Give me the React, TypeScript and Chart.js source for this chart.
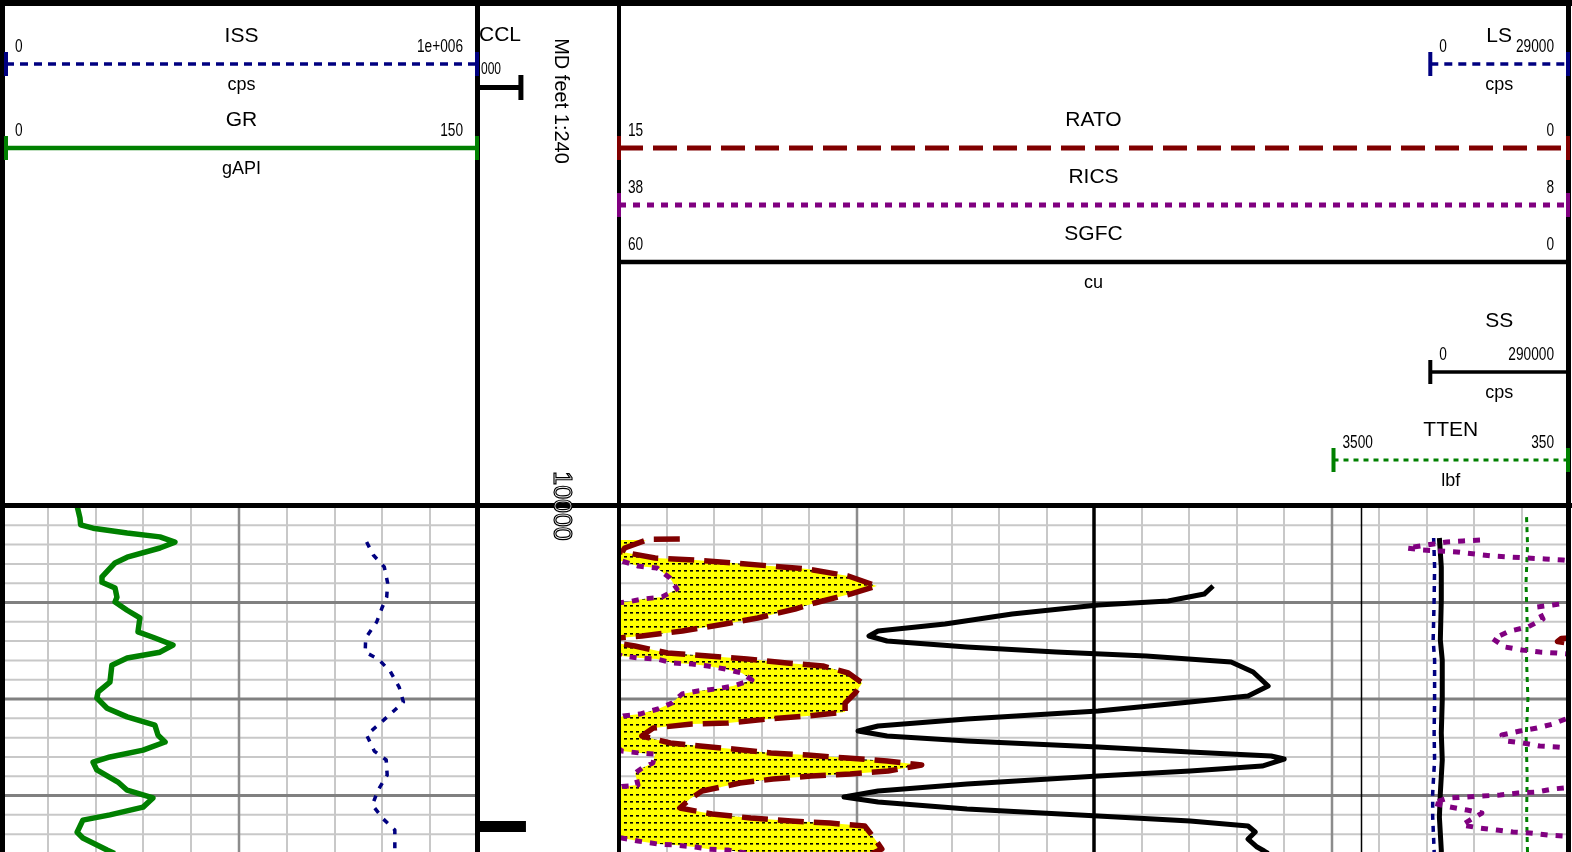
import React, { useEffect, useRef } from "react";
import { Chart, registerables } from "chart.js";
Chart.register(...registerables);

// ---------------- layout constants ----------------
const W = 1572;
const H = 852;
const FONT = '"Liberation Sans", Arial, Helvetica, sans-serif';
const DATA_TOP = 506;
const DEPTH_TOP = 10000;
const DEPTH_BOTTOM = 10071.7;
const MINOR_STEP = 4;
const MAJOR_STEP = 20;
const TRACK1 = { left: 0, right: 478 };
const DEPTH_TRACK = { left: 478, right: 619 };
const TRACK2 = { left: 619, right: 1569 };
const LS_SS_START = 0.854; // fraction of track 2 where LS / SS scales begin
const TTEN_START = 0.75; // fraction of track 2 where TTEN scale begins
const CCL_END = 0.34; // fraction of depth track where CCL scale ends
const CCL_HEADER_END = 0.315;

const GREEN = "#008000";
const NAVY = "#000080";
const MAROON = "#800000";
const PURPLE = "#800080";
const BLACK = "#000000";

// ---------------- scales (left value, right value) ----------------
const grScale = [0, 150];
const issScale = [0, 1000000];
const cclScale = [0, 1];
const ratoScale = [15, 0];
const ricsScale = [38, 8];
const sgfcScale = [60, 0];
const lsScale = [0, 29000];
const ssScale = [0, 290000];
const ttenScale = [3500, 350];
const depthLabel = "MD feet 1:240";

// ---------------- data ----------------
const grDepth = [10000.0, 10002.5, 10003.9, 10004.6, 10005.6, 10006.4, 10007.5, 10008.7, 10010.6, 10011.8, 10014.7, 10015.8, 10017.0, 10018.9, 10019.9, 10021.6, 10023.2, 10026.1, 10027.2, 10028.8, 10030.3, 10031.5, 10033.0, 10036.5, 10038.5, 10039.8, 10041.9, 10043.7, 10045.4, 10047.5, 10048.9, 10050.6, 10052.0, 10053.1, 10054.7, 10057.2, 10058.9, 10060.5, 10062.4, 10064.0, 10065.1, 10067.6, 10068.8, 10071.3, 10072.0];
const grValue = [24.2, 25.1, 25.3, 29.2, 39.9, 50.2, 54.9, 50.2, 39.9, 36.1, 32.0, 32.0, 36.1, 36.7, 36.1, 39.9, 43.9, 43.3, 48.0, 54.3, 50.2, 39.9, 35.1, 34.5, 30.8, 30.4, 33.6, 39.9, 48.6, 49.6, 51.8, 44.9, 34.5, 29.2, 30.4, 37.0, 39.9, 48.0, 44.9, 34.5, 26.0, 24.2, 26.0, 33.6, 36.0];

const issDepth = [10007.46, 10010.16, 10012.64, 10015.96, 10018.86, 10021.14, 10024.04, 10027.36, 10030.26, 10031.71, 10034.2, 10037.51, 10040.62, 10042.9, 10045.39, 10047.46, 10050.78, 10052.64, 10055.75, 10058.86, 10061.97, 10064.87, 10067.15, 10069.84, 10072.0];
const issValue = [767000, 781000, 804000, 811000, 809000, 799000, 788000, 765000, 764000, 791000, 816000, 835000, 844000, 819000, 791000, 767000, 783000, 808000, 810000, 791000, 779000, 802000, 826000, 826000, 826000];

const cclDepth = [10000.0, 10066.4, 10066.4, 10066.4, 10072.0];
const cclValue = [0, 0, 1, 0, 0];

const ratoDepth = [10006.84, 10006.9, 10008.7, 10009.53, 10010.78, 10011.19, 10011.81, 10012.44, 10013.06, 10014.51, 10016.58, 10018.24, 10020.1, 10021.35, 10023.21, 10024.46, 10025.91, 10026.94, 10027.46, 10028.08, 10028.6, 10029.02, 10030.47, 10031.09, 10031.71, 10032.54, 10033.16, 10034.61, 10036.68, 10038.76, 10040.83, 10042.69, 10043.52, 10044.15, 10044.97, 10045.18, 10046.01, 10047.67, 10049.12, 10049.74, 10050.36, 10051.19, 10051.61, 10052.23, 10052.85, 10053.68, 10054.92, 10055.54, 10055.96, 10056.58, 10057.41, 10059.07, 10060.73, 10062.59, 10063.83, 10064.66, 10065.28, 10065.7, 10066.32, 10069.02, 10071.09, 10072.0];
const ratoValue = [14.04, 14.54, 14.91, 14.95, 14.43, 13.8, 13.2, 12.6, 12.02, 11.38, 10.93, 11.35, 11.91, 12.22, 12.81, 13.33, 14.0, 14.64, 15.12, 15.18, 14.95, 14.75, 14.23, 13.59, 12.98, 12.35, 11.78, 11.38, 11.16, 11.27, 11.43, 11.43, 12.02, 12.65, 13.28, 13.85, 14.46, 14.64, 14.19, 13.72, 13.2, 12.6, 12.02, 11.4, 10.77, 10.22, 10.75, 11.35, 11.97, 12.57, 13.09, 13.69, 13.88, 14.04, 13.53, 12.92, 12.28, 11.67, 11.12, 10.96, 10.85, 11.0];

const ricsDepth = [10007.05, 10007.25, 10007.46, 10008.08, 10008.7, 10009.12, 10009.53, 10009.95, 10010.36, 10010.57, 10010.78, 10010.98, 10011.19, 10011.4, 10012.44, 10012.85, 10014.92, 10017.2, 10018.86, 10019.27, 10019.9, 10020.1, 10020.52, 10020.93, 10023.42, 10025.08, 10025.91, 10027.56, 10029.22, 10029.84, 10030.26, 10030.47, 10030.67, 10031.09, 10031.5, 10031.71, 10032.54, 10032.75, 10033.16, 10033.78, 10034.61, 10036.06, 10037.31, 10037.93, 10038.34, 10038.96, 10040.83, 10042.07, 10043.11, 10043.52, 10043.94, 10045.18, 10046.01, 10046.63, 10047.46, 10048.7, 10049.12, 10049.74, 10049.95, 10050.16, 10050.78, 10051.19, 10051.4, 10053.26, 10054.3, 10055.34, 10057.82, 10058.13, 10058.34, 10058.65, 10059.27, 10059.48, 10059.9, 10060.1, 10060.31, 10060.52, 10061.55, 10062.38, 10063.01, 10063.63, 10064.87, 10066.11, 10066.74, 10067.15, 10067.56, 10067.77, 10068.19, 10068.39, 10068.81, 10069.43, 10070.05, 10070.26, 10070.67, 10071.09, 10071.3, 10071.92];
const ricsValue = [40.81, 41.35, 41.86, 42.49, 43.12, 42.61, 41.54, 40.97, 40.43, 39.87, 39.33, 38.76, 38.19, 37.91, 37.4, 36.8, 36.39, 36.17, 36.64, 37.24, 37.75, 38.07, 38.51, 39.01, 38.82, 39.3, 39.87, 40.4, 40.02, 39.49, 38.92, 38.38, 38.03, 37.91, 37.34, 36.8, 36.29, 35.69, 35.19, 34.65, 34.12, 33.8, 34.4, 34.97, 35.51, 36.01, 36.33, 36.77, 37.34, 37.87, 38.03, 38.51, 39.01, 39.55, 40.12, 39.96, 39.46, 38.92, 38.38, 38.03, 37.91, 37.34, 36.86, 36.93, 37.27, 37.49, 37.4, 37.91, 38.03, 38.51, 39.01, 39.61, 40.18, 40.75, 41.22, 41.82, 42.3, 41.76, 41.22, 40.75, 41.07, 41.38, 40.81, 40.28, 39.77, 39.23, 38.67, 38.13, 37.91, 37.4, 36.77, 36.23, 35.6, 35.19, 34.56, 34.0];

const sgfcDepth = [10016.58, 10018.24, 10019.69, 10020.52, 10022.38, 10024.46, 10025.91, 10026.94, 10027.98, 10029.22, 10030.26, 10031.09, 10032.33, 10034.4, 10037.31, 10039.38, 10040.62, 10042.49, 10044.15, 10045.6, 10046.63, 10047.67, 10048.7, 10049.95, 10050.98, 10051.81, 10052.44, 10053.89, 10054.92, 10055.96, 10057.62, 10059.07, 10060.31, 10061.35, 10062.8, 10064.25, 10065.28, 10066.32, 10067.56, 10069.02, 10070.67, 10071.5, 10072.0];
const sgfcValue = [22.48, 23.04, 25.32, 29.74, 35.17, 39.41, 43.64, 44.21, 43.07, 38.02, 32.39, 26.71, 21.34, 19.95, 19.0, 20.27, 23.93, 29.74, 38.02, 43.64, 44.9, 43.07, 38.02, 29.74, 23.93, 18.81, 17.99, 19.38, 23.93, 29.74, 38.02, 43.64, 45.79, 43.64, 38.02, 29.74, 23.93, 20.27, 19.82, 20.27, 19.7, 19.25, 19.0];

const ssDepth = [10006.63, 10012.64, 10019.48, 10027.77, 10031.92, 10040.21, 10047.05, 10052.64, 10059.48, 10064.46, 10071.3, 10072.0];
const ssValue = [19000, 23000, 23000, 21000, 25000, 25000, 23000, 25000, 21000, 19000, 23000, 23000];
const lsDepth = [10006.63, 10012.64, 10019.48, 10027.77, 10031.92, 10040.21, 10047.05, 10052.64, 10059.48, 10064.46, 10071.3, 10072.0];
const lsValue = [700, 900, 800, 600, 900, 900, 800, 900, 500, 500, 800, 800];

const ttenDepth = [10002.3, 10008, 10016, 10024, 10032, 10040, 10048, 10056, 10064, 10072];
const ttenValue = [913, 900, 920, 905, 913, 895, 918, 905, 912, 900];

// ---------------- helpers ----------------
function fmt(v: number): string {
  if (v === 1000000) return "1e+006";
  return String(v);
}

function axis(leftVal: number, rightVal: number, f0 = 0, f1 = 1): any {
  const slope = (rightVal - leftVal) / (f1 - f0);
  const a = leftVal - slope * f0;
  const b = leftVal + slope * (1 - f0);
  return { type: "linear", axis: "x", display: false, min: Math.min(a, b), max: Math.max(a, b), reverse: a > b };
}

function curve(depths: number[], values: number[], xAxisID: string, color: string, width: number, dash: number[], extra: any = {}) {
  return {
    data: depths.map((d, i) => ({ x: values[i], y: d })),
    xAxisID,
    yAxisID: "y",
    borderColor: color,
    backgroundColor: color,
    borderWidth: width,
    borderDash: dash,
    fill: false,
    clip: 0,
    pointRadius: 0,
    tension: 0,
    ...extra,
  };
}

function makePattern(): any {
  const c = document.createElement("canvas");
  c.width = 6;
  c.height = 7;
  const g = c.getContext("2d")!;
  g.fillStyle = "#FFFF00";
  g.fillRect(0, 0, 6, 7);
  g.fillStyle = "#000000";
  g.fillRect(0, 3, 3, 1.6);
  return g.createPattern(c, "repeat") || "#FFFF00";
}

function gridPlugin(xId: string, divisions: number, darkAt: number[], blackAt: number[], extraFrac: number[]) {
  return {
    id: "logGrid",
    beforeDatasetsDraw(chart: any) {
      const { ctx, chartArea: a, scales } = chart;
      const ys = scales.y;
      const xs = scales[xId];
      ctx.save();
      ctx.beginPath();
      ctx.rect(a.left, a.top, a.right - a.left, a.bottom - a.top);
      ctx.clip();
      const hline = (d: number, color: string, w: number) => {
        const y = ys.getPixelForValue(d);
        ctx.strokeStyle = color;
        ctx.lineWidth = w;
        ctx.beginPath();
        ctx.moveTo(a.left, y);
        ctx.lineTo(a.right, y);
        ctx.stroke();
      };
      const vline = (x: number, color: string, w: number) => {
        ctx.strokeStyle = color;
        ctx.lineWidth = w;
        ctx.beginPath();
        ctx.moveTo(x, a.top);
        ctx.lineTo(x, a.bottom);
        ctx.stroke();
      };
      const n = Math.floor((DEPTH_BOTTOM - DEPTH_TOP) / MINOR_STEP);
      for (let k = 1; k <= n; k++) {
        if ((k * MINOR_STEP) % MAJOR_STEP !== 0) hline(DEPTH_TOP + k * MINOR_STEP, "#C8C8C8", 2);
      }
      const lo = xs.min;
      const hi = xs.max;
      const xAt = (i: number) => Math.round(xs.getPixelForValue(lo + ((hi - lo) * i) / divisions));
      for (let i = 1; i < divisions; i++) {
        if (darkAt.indexOf(i) < 0 && blackAt.indexOf(i) < 0) vline(xAt(i), "#C8C8C8", 2);
      }
      for (const i of darkAt) vline(xAt(i), "#8C8C8C", 2.5);
      for (let k = 1; k <= n; k++) {
        if ((k * MINOR_STEP) % MAJOR_STEP === 0) hline(DEPTH_TOP + k * MINOR_STEP, "#808080", 3);
      }
      for (const i of blackAt) vline(xAt(i), "#000000", 3.5);
      for (const f of extraFrac) vline(Math.round(a.left + f * (a.right - a.left)) + 0.5, "#000000", 1.5);
      ctx.restore();
    },
  };
}

type Hdr = {
  name: string;
  unit?: string;
  scale: number[];
  color: string;
  dash: number[];
  width: number;
  y: number;
  x0: number;
  x1: number;
  nameDy?: number;
  capL?: boolean;
  capR?: boolean;
};

const t2w = TRACK2.right - TRACK2.left;
const HEADERS: Hdr[] = [
  { name: "ISS", unit: "cps", scale: issScale, color: NAVY, dash: [8, 6], width: 3.5, y: 64, x0: TRACK1.left + 6, x1: TRACK1.right - 1, capL: true, capR: true },
  { name: "GR", unit: "gAPI", scale: grScale, color: GREEN, dash: [], width: 4.5, y: 148, x0: TRACK1.left + 6, x1: TRACK1.right - 1, capL: true, capR: true },
  { name: "LS", unit: "cps", scale: lsScale, color: NAVY, dash: [8, 6], width: 3.5, y: 64, x0: TRACK2.left + LS_SS_START * t2w, x1: TRACK2.right - 1, capL: true, capR: true },
  { name: "RATO", scale: ratoScale, color: MAROON, dash: [24, 10], width: 5, y: 148, x0: TRACK2.left, x1: TRACK2.right - 1, capL: true, capR: true },
  { name: "RICS", scale: ricsScale, color: PURPLE, dash: [7, 7], width: 5, y: 205, x0: TRACK2.left, x1: TRACK2.right - 1, capL: true, capR: true },
  { name: "SGFC", unit: "cu", scale: sgfcScale, color: BLACK, dash: [], width: 4.5, y: 262, x0: TRACK2.left, x1: TRACK2.right - 1 },
  { name: "SS", unit: "cps", scale: ssScale, color: BLACK, dash: [], width: 3.5, y: 372, x0: TRACK2.left + LS_SS_START * t2w, x1: TRACK2.right - 1, capL: true, nameDy: -51 },
  { name: "TTEN", unit: "lbf", scale: ttenScale, color: GREEN, dash: [5, 5], width: 3, y: 460, x0: TRACK2.left + TTEN_START * t2w + 2, x1: TRACK2.right - 1, capL: true, capR: true, nameDy: -30 },
];

function condensed(ctx: any, text: string, x: number, y: number, align: string, size = 19, sx = 0.72) {
  ctx.save();
  ctx.translate(x, y);
  ctx.scale(sx, 1);
  ctx.font = `${size}px ${FONT}`;
  ctx.textAlign = align;
  ctx.textBaseline = "middle";
  ctx.fillStyle = "#000";
  ctx.fillText(text, 0, 0);
  ctx.restore();
}

function drawHeader(ctx: any, h: Hdr) {
  ctx.save();
  ctx.strokeStyle = h.color;
  ctx.lineWidth = h.width;
  ctx.setLineDash(h.dash);
  ctx.lineCap = "butt";
  ctx.beginPath();
  ctx.moveTo(h.x0, h.y);
  ctx.lineTo(h.x1, h.y);
  ctx.stroke();
  ctx.setLineDash([]);
  ctx.fillStyle = h.color;
  if (h.capL) ctx.fillRect(h.x0 - 2, h.y - 12, 4, 24);
  if (h.capR) ctx.fillRect(h.x1 - 2, h.y - 12, 4, 24);
  const mid = (h.x0 + h.x1) / 2;
  ctx.fillStyle = "#000";
  ctx.textAlign = "center";
  ctx.textBaseline = "middle";
  ctx.font = `21px ${FONT}`;
  ctx.fillText(h.name, mid, h.y + (h.nameDy ?? -28));
  if (h.unit) {
    ctx.font = `18px ${FONT}`;
    ctx.fillText(h.unit, mid, h.y + 21);
  }
  condensed(ctx, fmt(h.scale[0]), h.x0 + 9, h.y - 17, "left");
  condensed(ctx, fmt(h.scale[1]), h.x1 - 14, h.y - 17, "right");
  ctx.restore();
}

const overlayPlugin = {
  id: "logOverlay",
  afterDraw(chart: any) {
    const { ctx } = chart;
    const ys = chart.scales.y;
    ctx.save();
    // frame
    ctx.fillStyle = "#000";
    ctx.fillRect(0, 0, W, 6);
    ctx.fillRect(0, 0, 5, H);
    ctx.fillRect(1566, 0, 5, H);
    ctx.fillRect(TRACK1.right - 3, 0, 5, H);
    ctx.fillRect(TRACK2.left - 2, 0, 4, H);
    ctx.fillRect(0, DATA_TOP - 3, W, 5);
    // curve headers
    for (const h of HEADERS) drawHeader(ctx, h);
    // CCL header
    const cx0 = DEPTH_TRACK.left;
    const cx1 = DEPTH_TRACK.left + CCL_HEADER_END * (DEPTH_TRACK.right - DEPTH_TRACK.left);
    ctx.fillStyle = "#000";
    ctx.fillRect(cx0, 85, cx1 - cx0, 5);
    ctx.fillRect(cx1 - 4, 75, 5, 25);
    ctx.font = `21px ${FONT}`;
    ctx.textAlign = "left";
    ctx.textBaseline = "middle";
    ctx.fillText("CCL", DEPTH_TRACK.left + 1, 35);
    condensed(ctx, "000", DEPTH_TRACK.left + 3, 70, "left", 16, 0.75);
    // depth track labels
    const dx = (DEPTH_TRACK.left + DEPTH_TRACK.right) / 2 + 12;
    ctx.save();
    ctx.translate(dx, 101);
    ctx.rotate(Math.PI / 2);
    ctx.font = `20px ${FONT}`;
    ctx.textAlign = "center";
    ctx.textBaseline = "middle";
    ctx.fillStyle = "#000";
    ctx.fillText(depthLabel, 0, 0);
    ctx.restore();
    ctx.save();
    ctx.translate(dx, ys.getPixelForValue(DEPTH_TOP));
    ctx.rotate(Math.PI / 2);
    ctx.font = `25px ${FONT}`;
    ctx.textAlign = "center";
    ctx.textBaseline = "middle";
    ctx.strokeStyle = "#000";
    ctx.lineWidth = 1.2;
    ctx.fillStyle = "#fff";
    ctx.fillText(fmt(DEPTH_TOP), 0, 0);
    ctx.strokeText(fmt(DEPTH_TOP), 0, 0);
    ctx.restore();
    ctx.restore();
  },
};

function baseOptions(area: { left: number; right: number }, xScales: any) {
  return {
    animation: false,
    responsive: false,
    maintainAspectRatio: false,
    indexAxis: "y",
    events: [],
    layout: { padding: { left: area.left, right: W - area.right, top: DATA_TOP, bottom: 0 } },
    plugins: { legend: { display: false }, tooltip: { enabled: false }, title: { display: false } },
    elements: { point: { radius: 0, hoverRadius: 0 }, line: { tension: 0, borderCapStyle: "butt", borderJoinStyle: "round" } },
    scales: {
      y: { type: "linear", axis: "y", min: DEPTH_TOP, max: DEPTH_BOTTOM, reverse: true, display: false },
      ...xScales,
    },
  };
}

function track1Config(): any {
  return {
    type: "line",
    data: {
      datasets: [
        curve(grDepth, grValue, "xGR", GREEN, 5.5, []),
        curve(issDepth, issValue, "xISS", NAVY, 3.5, [6, 8]),
      ],
    },
    options: baseOptions(TRACK1, {
      xGR: axis(grScale[0], grScale[1]),
      xISS: axis(issScale[0], issScale[1]),
    }),
    plugins: [gridPlugin("xGR", 10, [5], [], [])],
  };
}

function depthConfig(): any {
  return {
    type: "line",
    data: {
      datasets: [
        curve(cclDepth, cclValue, "xCCL", BLACK, 4, [], {
          borderJoinStyle: "miter",
          segment: {
            borderWidth: (c: any) => (cclValue[c.p0DataIndex] > 0.5 || cclValue[c.p1DataIndex] > 0.5 ? 11 : 4),
          },
        }),
      ],
    },
    options: baseOptions(DEPTH_TRACK, {
      xCCL: axis(cclScale[0], cclScale[1], 0, CCL_END),
    }),
  };
}

function track2Config(pattern: any): any {
  const ricsWrapLeft = ricsScale[0] + (ricsScale[0] - ricsScale[1]);
  const ratoWrapLeft = ratoScale[0] + (ratoScale[0] - ratoScale[1]);
  return {
    type: "line",
    data: {
      datasets: [
        curve(ricsDepth, ricsValue, "xRICS", PURPLE, 5, [7, 8]),
        curve(ratoDepth, ratoValue, "xRATO", MAROON, 5.5, [26, 10], { fill: "-1", backgroundColor: pattern }),
        curve(ricsDepth, ricsValue, "xRICSw", PURPLE, 5, [7, 8]),
        curve(ratoDepth, ratoValue, "xRATOw", MAROON, 5.5, [26, 10]),
        curve(sgfcDepth, sgfcValue, "xSGFC", BLACK, 5, []),
        curve(ssDepth, ssValue, "xSS", BLACK, 5, []),
        curve(lsDepth, lsValue, "xLS", NAVY, 3.5, [6, 6]),
        curve(ttenDepth, ttenValue, "xTTEN", GREEN, 3, [5, 5]),
      ],
    },
    options: baseOptions(TRACK2, {
      xSGFC: axis(sgfcScale[0], sgfcScale[1]),
      xRATO: axis(ratoScale[0], ratoScale[1]),
      xRATOw: axis(ratoWrapLeft, ratoScale[0]),
      xRICS: axis(ricsScale[0], ricsScale[1]),
      xRICSw: axis(ricsWrapLeft, ricsScale[0]),
      xSS: axis(ssScale[0], ssScale[1], LS_SS_START, 1),
      xLS: axis(lsScale[0], lsScale[1], LS_SS_START, 1),
      xTTEN: axis(ttenScale[0], ttenScale[1], TTEN_START, 1),
    }),
    plugins: [gridPlugin("xSGFC", 20, [5, 15], [10], [0.781]), overlayPlugin],
  };
}

export default function App() {
  const r1 = useRef<HTMLCanvasElement>(null);
  const r2 = useRef<HTMLCanvasElement>(null);
  const r3 = useRef<HTMLCanvasElement>(null);
  useEffect(() => {
    const pattern = makePattern();
    const charts = [
      new Chart(r1.current as HTMLCanvasElement, track1Config()),
      new Chart(r2.current as HTMLCanvasElement, depthConfig()),
      new Chart(r3.current as HTMLCanvasElement, track2Config(pattern)),
    ];
    return () => charts.forEach((c) => c.destroy());
  }, []);
  const cs: React.CSSProperties = { position: "absolute", left: 0, top: 0, width: W, height: H };
  return (
    <div style={{ position: "absolute", left: 0, top: 0, width: W, height: H, background: "#fff", overflow: "hidden" }}>
      <canvas ref={r1} width={W} height={H} style={cs} />
      <canvas ref={r2} width={W} height={H} style={cs} />
      <canvas ref={r3} width={W} height={H} style={cs} />
    </div>
  );
}
